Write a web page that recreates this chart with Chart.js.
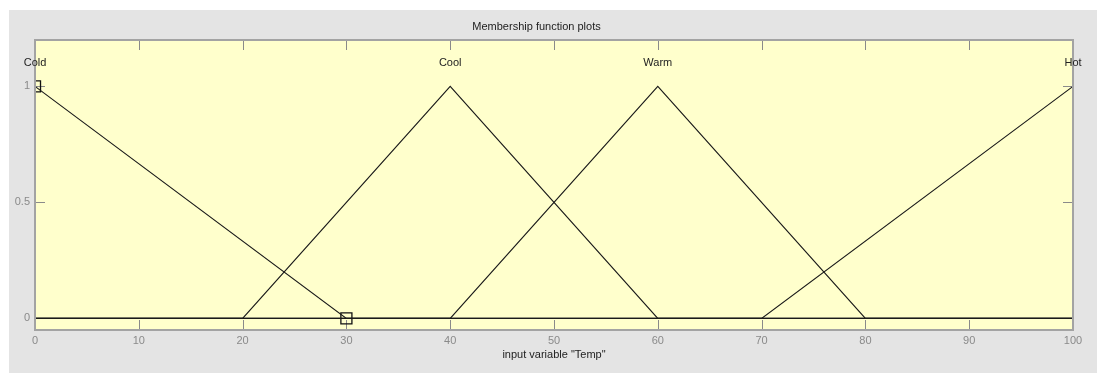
<!DOCTYPE html>
<html>
<head>
<meta charset="utf-8">
<script src="https://cdn.jsdelivr.net/npm/chart.js@4/dist/chart.umd.min.js"></script>
<style>
  html, body { margin: 0; padding: 0; background: #e4e4e4; overflow: hidden; }
  #wrap { position: absolute; left: 0; top: 0; width: 1097px; height: 373px; }
  canvas { display: block; }
</style>
</head>
<body>
<div id="wrap"><canvas id="mf" width="1097" height="373"></canvas></div>
<script>
// Input variable "Temp", range 0..100, four triangular membership functions
const xTicks = [0, 10, 20, 30, 40, 50, 60, 70, 80, 90, 100];
const yTicks = [0, 0.5, 1];

const mfNames = ['Cold', 'Cool', 'Warm', 'Hot'];
const mfPeaks = [0, 40, 60, 100];
const mfLabelLevel = 1.1;

const coldX = [0, 30, 100];
const coldY = [1, 0, 0];
const coolX = [0, 20, 40, 60, 100];
const coolY = [0, 0, 1, 0, 0];
const warmX = [0, 40, 60, 80, 100];
const warmY = [0, 0, 1, 0, 0];
const hotX = [0, 70, 100];
const hotY = [0, 0, 1];

// vertices of the selected function (Cold)
const markerX = [0, 30];
const markerY = [1, 0];

const FONT = '"Liberation Sans", Arial, "DejaVu Sans", sans-serif';
const PANEL = '#e4e4e4';
const PLOT_BG = '#ffffcc';
const FRAME = '#a3a3a3';
const TICK = '#8a8a8a';
const INK = '#222222';

const pts = (xs, ys) => xs.map((x, i) => ({ x: x, y: ys[i] }));

function mfSet(xs, ys) {
  return {
    data: pts(xs, ys),
    borderColor: '#1a1a1a',
    borderWidth: 1.1,
    pointRadius: 0,
    tension: 0,
    fill: false
  };
}

const framePlugin = {
  id: 'framePlugin',
  beforeDraw(chart) {
    const ctx = chart.ctx;
    const a = chart.chartArea;
    ctx.save();
    ctx.fillStyle = '#ffffff';
    ctx.fillRect(0, 0, chart.width, chart.height);
    ctx.fillStyle = PANEL;
    ctx.fillRect(9, 10, chart.width - 9, chart.height - 10);
    ctx.fillStyle = PLOT_BG;
    ctx.fillRect(a.left, a.top, a.right - a.left, a.bottom - a.top);
    ctx.restore();
  },
  beforeDatasetsDraw(chart) {
    const ctx = chart.ctx;
    const a = chart.chartArea;
    const xs = chart.scales.x;
    const ys = chart.scales.y;
    const len = 10;
    ctx.save();
    ctx.strokeStyle = TICK;
    ctx.lineWidth = 1;
    ctx.beginPath();
    xTicks.forEach(v => {
      if (v === xs.min || v === xs.max) return;
      const px = Math.round(xs.getPixelForValue(v)) + 0.5;
      ctx.moveTo(px, a.top); ctx.lineTo(px, a.top + len);
      ctx.moveTo(px, a.bottom); ctx.lineTo(px, a.bottom - len);
    });
    yTicks.forEach(v => {
      const py = Math.round(ys.getPixelForValue(v)) + 0.5;
      ctx.moveTo(a.left, py); ctx.lineTo(a.left + len, py);
      ctx.moveTo(a.right, py); ctx.lineTo(a.right - len, py);
    });
    ctx.stroke();
    ctx.restore();
  },
  afterDatasetsDraw(chart) {
    const ctx = chart.ctx;
    const a = chart.chartArea;
    const xs = chart.scales.x;
    const ys = chart.scales.y;
    ctx.save();
    ctx.strokeStyle = FRAME;
    ctx.lineWidth = 2;
    ctx.strokeRect(a.left, a.top, a.right - a.left, a.bottom - a.top);
    ctx.fillStyle = INK;
    ctx.font = '11px ' + FONT;
    ctx.textAlign = 'center';
    ctx.textBaseline = 'middle';
    mfNames.forEach((n, i) => {
      ctx.fillText(n, xs.getPixelForValue(mfPeaks[i]), ys.getPixelForValue(mfLabelLevel));
    });
    ctx.restore();
  }
};

new Chart(document.getElementById('mf'), {
  type: 'line',
  data: {
    datasets: [
      mfSet(coldX, coldY),
      mfSet(coolX, coolY),
      mfSet(warmX, warmY),
      mfSet(hotX, hotY),
      {
        data: pts(markerX, markerY),
        showLine: false,
        pointStyle: 'rect',
        pointRadius: 7.8,
        borderColor: '#111111',
        borderWidth: 1.3,
        backgroundColor: 'rgba(0,0,0,0)'
      }
    ]
  },
  options: {
    responsive: false,
    animation: false,
    events: [],
    layout: { padding: { left: 0, right: 24, top: 0, bottom: 0 } },
    plugins: {
      legend: { display: false },
      tooltip: { enabled: false },
      title: {
        display: true,
        text: 'Membership function plots',
        color: INK,
        font: { family: FONT, size: 11, weight: 'normal', lineHeight: 1.2 },
        padding: { top: 20, bottom: 6.8 }
      }
    },
    scales: {
      x: {
        type: 'linear',
        min: 0,
        max: 100,
        grid: { display: false, drawTicks: false },
        border: { display: false },
        afterBuildTicks: s => { s.ticks = xTicks.map(v => ({ value: v })); },
        afterFit: s => { s.height = 43; },
        ticks: {
          color: TICK,
          padding: 4,
          maxRotation: 0,
          callback: v => String(v),
          font: { family: FONT, size: 11, lineHeight: 1.2 }
        },
        title: {
          display: true,
          text: 'input variable "Temp"',
          color: INK,
          font: { family: FONT, size: 11, lineHeight: 1.2 },
          padding: { top: 0, bottom: 11.4 }
        }
      },
      y: {
        type: 'linear',
        min: -0.05,
        max: 1.2,
        grid: { display: false, drawTicks: false },
        border: { display: false },
        afterBuildTicks: s => { s.ticks = yTicks.map(v => ({ value: v })); },
        afterFit: s => { s.width = 35; },
        ticks: {
          color: TICK,
          padding: 5,
          callback: v => String(v),
          font: { family: FONT, size: 11, lineHeight: 1.2 }
        }
      }
    }
  },
  plugins: [framePlugin]
});
</script>
</body>
</html>
